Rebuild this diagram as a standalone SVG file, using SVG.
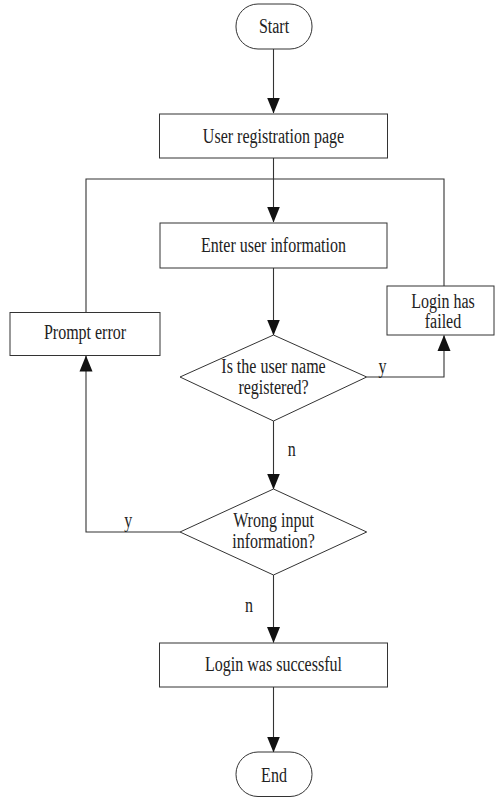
<svg xmlns="http://www.w3.org/2000/svg" width="495" height="797" viewBox="0 0 495 797">
<defs>
<marker id="arr" markerUnits="userSpaceOnUse" markerWidth="16" markerHeight="14" viewBox="0 0 16 14" refX="15.5" refY="7" orient="auto">
<path d="M0,0.5 L16,7 L0,13.5 Z" fill="#111"/>
</marker>
</defs>
<style>
.s{fill:#fff;stroke:#333;stroke-width:1}
.c{fill:none;stroke:#333;stroke-width:1.1}
.t{font-family:"Liberation Serif","Times New Roman",serif;font-size:20px;fill:#222;text-anchor:middle}
.l{font-family:"Liberation Serif","Times New Roman",serif;font-size:20px;fill:#222;text-anchor:middle}
</style>
<rect width="495" height="797" fill="#fff"/>
<g id="connectors">
<path class="c" d="M273.5,49 V113" marker-end="url(#arr)"/>
<path class="c" d="M273.5,158 V222" marker-end="url(#arr)"/>
<path class="c" d="M86,312 V179 H444 V286"/>
<path class="c" d="M273.5,268 V335" marker-end="url(#arr)"/>
<path class="c" d="M366.7,377 H444 V335.5" marker-end="url(#arr)"/>
<path class="c" d="M273.5,421 V489" marker-end="url(#arr)"/>
<path class="c" d="M180,532 H86 V356" marker-end="url(#arr)"/>
<path class="c" d="M273.5,575 V642.5" marker-end="url(#arr)"/>
<path class="c" d="M273.5,687 V752" marker-end="url(#arr)"/>
<text class="l" transform="translate(382.5 373) scale(0.8 1)">y</text>
<text class="l" transform="translate(291.7 456) scale(0.8 1)">n</text>
<text class="l" transform="translate(128.3 527) scale(0.8 1)">y</text>
<text class="l" transform="translate(249 612) scale(0.8 1)">n</text>
</g>
<g id="start">
<rect class="s" x="236" y="4" width="76" height="45" rx="22" ry="22"/>
<text class="t" transform="translate(274 32.5) scale(0.8 1)">Start</text>
</g>
<g id="registration">
<rect class="s" x="159.5" y="114" width="228" height="44"/>
<text class="t" transform="translate(273.5 143) scale(0.8 1)">User registration page</text>
</g>
<g id="enter">
<rect class="s" x="160" y="223" width="227" height="45"/>
<text class="t" transform="translate(273.5 251.7) scale(0.8 1)">Enter user information</text>
</g>
<g id="failed">
<rect class="s" x="387" y="286" width="107" height="49"/>
<text class="t" transform="translate(443 308) scale(0.8 1)">Login has</text>
<text class="t" transform="translate(443 328) scale(0.8 1)">failed</text>
</g>
<g id="prompt">
<rect class="s" x="10" y="312.5" width="150" height="43"/>
<text class="t" transform="translate(85 339.3) scale(0.8 1)">Prompt error</text>
</g>
<g id="registered">
<polygon class="s" points="273.5,335 366.7,377 273.5,421 180,377"/>
<text class="t" transform="translate(273.5 373.3) scale(0.8 1)">Is the user name</text>
<text class="t" transform="translate(273.5 394.3) scale(0.8 1)">registered?</text>
</g>
<g id="wrong">
<polygon class="s" points="273.5,489 366.7,532 273.5,575 180,532"/>
<text class="t" transform="translate(273.5 526.7) scale(0.8 1)">Wrong input</text>
<text class="t" transform="translate(273.5 548.3) scale(0.8 1)">information?</text>
</g>
<g id="success">
<rect class="s" x="159.5" y="643" width="228" height="44"/>
<text class="t" transform="translate(273.5 671) scale(0.8 1)">Login was successful</text>
</g>
<g id="end">
<rect class="s" x="236" y="752" width="76" height="44.5" rx="22" ry="22"/>
<text class="t" transform="translate(274 781.7) scale(0.8 1)">End</text>
</g>
</svg>
